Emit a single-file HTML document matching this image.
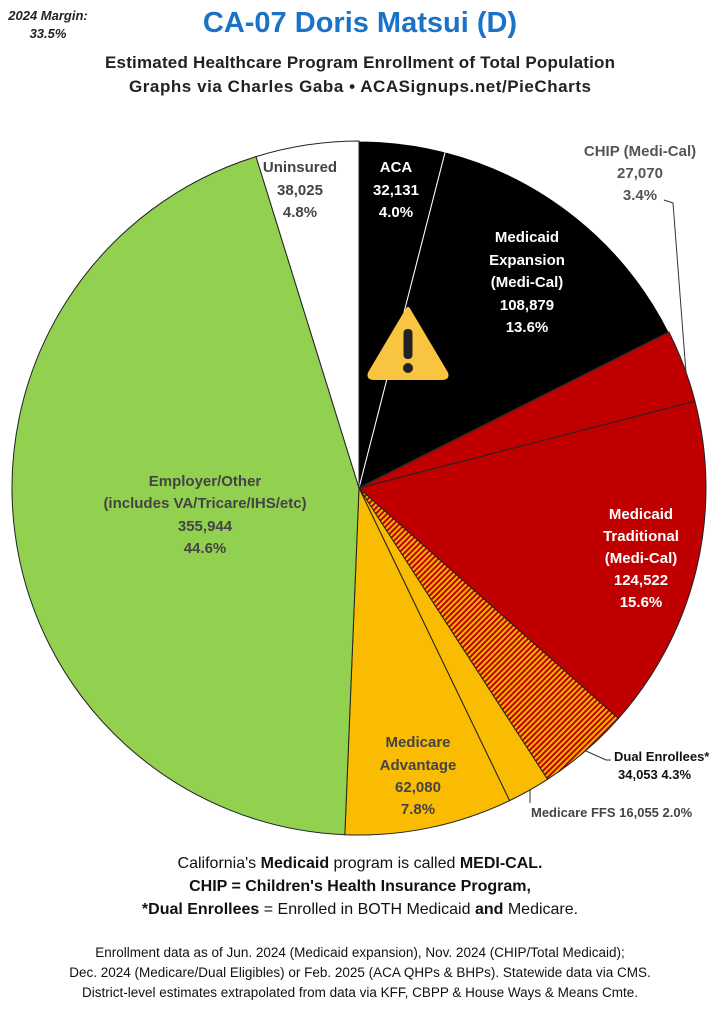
<!DOCTYPE html>
<html><head><meta charset="utf-8"><style>
body{margin:0;background:#fff;width:720px;height:1010px;overflow:hidden}
svg text{font-family:"Liberation Sans",sans-serif;font-weight:bold}
</style></head><body>
<svg width="720" height="1010" xmlns="http://www.w3.org/2000/svg">
<defs>
<pattern id="h" patternUnits="userSpaceOnUse" width="4" height="4" patternTransform="rotate(45)">
<rect width="4" height="4" fill="#f5b400"/><rect width="2" height="4" fill="#c00000"/>
</pattern>
</defs>
<g id="pie"></g>
<text x="360" y="32" text-anchor="middle" font-size="29" fill="#1a73c8">CA-07 Doris Matsui (D)</text>
<text x="360" y="68" text-anchor="middle" font-size="17" fill="#222" textLength="510">Estimated Healthcare Program Enrollment of Total Population</text>
<text x="360" y="92" text-anchor="middle" font-size="17" fill="#222" textLength="462">Graphs via Charles Gaba  •  ACASignups.net/PieCharts</text>
<text x="48" y="20" text-anchor="middle" font-size="13" font-style="italic" fill="#222">2024 Margin:</text>
<text x="48" y="38" text-anchor="middle" font-size="13" font-style="italic" fill="#222">33.5%</text>
<g font-size="15" text-anchor="middle" fill="#fff">
<text x="300" y="172" fill="#444">Uninsured</text><text x="300" y="195" fill="#444">38,025</text><text x="300" y="217" fill="#444">4.8%</text>
<text x="396" y="172">ACA</text><text x="396" y="195">32,131</text><text x="396" y="217">4.0%</text>
<text x="527" y="242">Medicaid</text><text x="527" y="265">Expansion</text><text x="527" y="287">(Medi-Cal)</text><text x="527" y="310">108,879</text><text x="527" y="332">13.6%</text>
<text x="640" y="156" fill="#555">CHIP (Medi-Cal)</text><text x="640" y="178" fill="#555">27,070</text><text x="640" y="200" fill="#555">3.4%</text>
<text x="641" y="519">Medicaid</text><text x="641" y="541">Traditional</text><text x="641" y="563">(Medi-Cal)</text><text x="641" y="585">124,522</text><text x="641" y="607">15.6%</text>
<text x="418" y="747" fill="#444">Medicare</text><text x="418" y="770" fill="#444">Advantage</text><text x="418" y="792" fill="#444">62,080</text><text x="418" y="814" fill="#444">7.8%</text>
<text x="205" y="486" fill="#444">Employer/Other</text><text x="205" y="508" fill="#444">(includes VA/Tricare/IHS/etc)</text><text x="205" y="531" fill="#444">355,944</text><text x="205" y="553" fill="#444">44.6%</text>
</g>
<text x="614" y="761" font-size="13" fill="#111">Dual Enrollees*</text>
<text x="618" y="779" font-size="13" fill="#111">34,053 4.3%</text>
<text x="531" y="817" font-size="13" fill="#444">Medicare FFS 16,055 2.0%</text>
<polyline points="586,751 606,760 611,760" fill="none" stroke="#333" stroke-width="1"/>
<line x1="530" y1="790" x2="530" y2="803" stroke="#333"/>
<polyline points="664,200 673,203 686,373" fill="none" stroke="#333" stroke-width="1"/>
<g transform="translate(408,345)">
<path d="M0,-36 L38,28 Q40,33 34,33 L-34,33 Q-40,33 -38,28 Z" fill="#f9c440" stroke="#f9c440" stroke-linejoin="round" stroke-width="4"/>
<rect x="-4.5" y="-16" width="9" height="30" rx="4" fill="#222"/>
<circle cx="0" cy="23" r="5" fill="#222"/>
</g>
<g font-size="16" text-anchor="middle" fill="#111" font-weight="normal">
<text x="360" y="868" style="font-weight:normal">California's <tspan font-weight="bold">Medicaid</tspan> program is called <tspan font-weight="bold">MEDI-CAL.</tspan></text>
<text x="360" y="891">CHIP = Children's Health Insurance Program,</text>
<text x="360" y="914" style="font-weight:normal"><tspan font-weight="bold">*Dual Enrollees</tspan> = Enrolled in BOTH Medicaid <tspan font-weight="bold">and</tspan> Medicare.</text>
</g>
<g font-size="13.5" text-anchor="middle" fill="#111">
<text x="360" y="957" style="font-weight:normal">Enrollment data as of Jun. 2024 (Medicaid expansion), Nov. 2024 (CHIP/Total Medicaid);</text>
<text x="360" y="977" style="font-weight:normal">Dec. 2024 (Medicare/Dual Eligibles) or Feb. 2025 (ACA QHPs &amp; BHPs). Statewide data via CMS.</text>
<text x="360" y="997" style="font-weight:normal">District-level estimates extrapolated from data via KFF, CBPP &amp; House Ways &amp; Means Cmte.</text>
</g>
</svg>
<script>
var cx=359,cy=488,r=347;
var s=[[4.0,"#000","#fff"],[13.6,"#000","#fff"],[3.4,"#c00000","#222"],[15.6,"#c00000","#222"],[4.3,"url(#h)","#222"],[2.0,"#f9bc00","#222"],[7.8,"#f9bc00","#222"],[44.6,"#92d050","#222"],[4.8,"#fff","#222"]];
var tot=0;s.forEach(function(a){tot+=a[0]});
var a0=0,g=document.getElementById("pie"),h="";
s.forEach(function(a){var a1=a0+a[0]/tot*2*Math.PI;
var x0=cx+r*Math.sin(a0),y0=cy-r*Math.cos(a0),x1=cx+r*Math.sin(a1),y1=cy-r*Math.cos(a1);
h+='<path d="M'+cx+','+cy+' L'+x0+','+y0+' A'+r+','+r+' 0 '+(a1-a0>Math.PI?1:0)+' 1 '+x1+','+y1+' Z" fill="'+a[1]+'" stroke="'+a[2]+'" stroke-width="1"/>';a0=a1;});
g.innerHTML=h;
</script>
</body></html>
